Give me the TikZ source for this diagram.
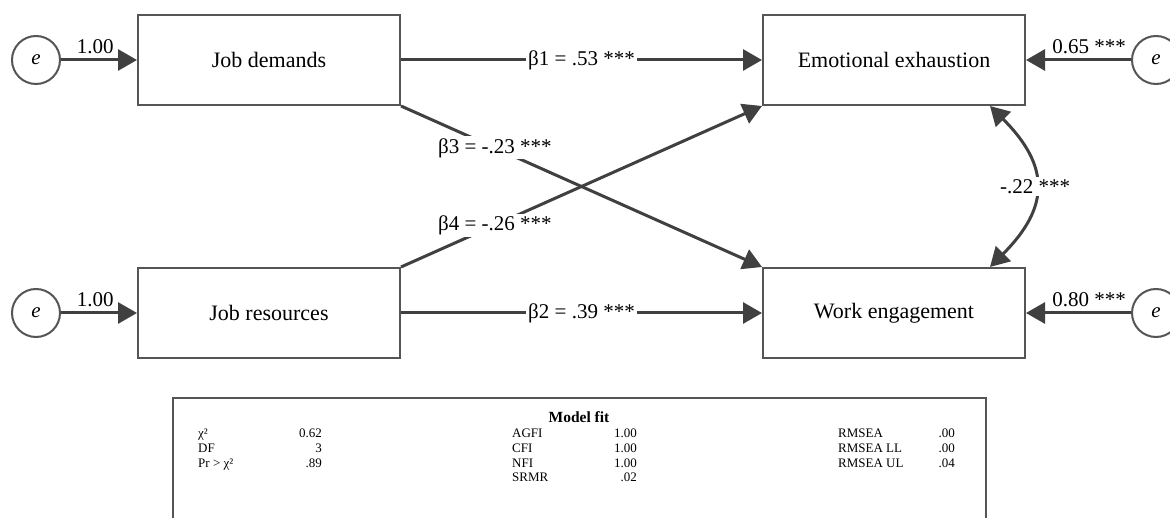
\documentclass[tikz,border=0pt]{standalone}
\usepackage{fontspec}
\setmainfont{Liberation Serif}
\usetikzlibrary{arrows.meta}
\definecolor{linea}{HTML}{404040}
\definecolor{bordo}{HTML}{555555}
\tikzset{
    scatola/.style={draw=bordo, line width=2pt, minimum width=262pt, minimum height=90pt, font=\fontsize{22}{26}\selectfont},
    errore/.style={draw=bordo, line width=2pt, circle, minimum size=48pt, inner sep=0pt, font=\fontsize{21}{24}\selectfont\itshape},
    freccia/.style={draw=linea, line width=3pt, -{Triangle[length=19pt,width=21pt]}},
    peso/.style={above=5pt, inner sep=0pt, font=\fontsize{21}{24}\selectfont},
    coeff/.style={font=\fontsize{21}{24}\selectfont, fill=white, inner sep=2pt},
    tab/.style={font=\fontsize{13}{15}\selectfont, inner sep=0pt}
}
\begin{document}
\begin{tikzpicture}[x=1pt, y=-1pt]
        \useasboundingbox (0,0) rectangle (1170,518);

        % Variabili osservate
        \node[scatola] (jd) at (269,60) {Job demands};
        \node[scatola] (jr) at (269,313) {Job resources};
        \node[scatola] (ee) at (894,60) {Emotional exhaustion};
        \node[scatola] (we) at (894,313) {Work engagement};

        % Errori
        \node[errore] (e1) at (36,60) {e};
        \node[errore] (e2) at (36,313) {e};
        \node[errore] (e3) at (1156,60) {e};
        \node[errore] (e4) at (1156,313) {e};

        % Frecce degli errori
        \draw[freccia] (e1) -- (jd) node[pos=0.45, peso] {1.00};
        \draw[freccia] (e2) -- (jr) node[pos=0.45, peso] {1.00};
        \draw[freccia] (e3) -- (ee) node[pos=0.4, peso] {0.65 ***};
        \draw[freccia] (e4) -- (we) node[pos=0.4, peso] {0.80 ***};

        % Percorsi
        \draw[freccia] (jd) -- (ee) node[coeff, midway] {β1 = .53 ***};
        \draw[freccia] (jr) -- (we) node[coeff, midway] {β2 = .39 ***};
        \draw[freccia] (jd.south east) -- (we.north west) node[coeff, pos=0.26] {β3 = -.23 ***};
        \draw[freccia] (jr.north east) -- (ee.south west) node[coeff, pos=0.26] {β4 = -.26 ***};

        % Covarianza
        \draw[draw=linea, line width=3pt, {Triangle[length=19pt,width=21pt]}-{Triangle[length=19pt,width=21pt]}]
        ([xshift=96pt]ee.south) .. controls +(60,60) and +(60,-60) .. ([xshift=96pt]we.north)
        node[coeff, midway] {-.22 ***};

        % Riquadro Model fit
        \draw[draw=bordo, line width=2pt] (173,398) rectangle (986,540);
        \node[anchor=base, inner sep=0pt, font=\fontsize{15.5}{18}\selectfont\bfseries] (fit) at (579,422) {Model fit};

        \node[tab, anchor=base west] (c1a) at (198,438) {χ²};
        \node[tab, anchor=base west] (c1b) at (198,452.5) {DF};
        \node[tab, anchor=base west] (c1c) at (198,467) {Pr > χ²};
        \node[tab, anchor=base east] (v1a) at (322,438) {0.62};
        \node[tab, anchor=base east] (v1b) at (322,452.5) {3};
        \node[tab, anchor=base east] (v1c) at (322,467) {.89};

        \node[tab, anchor=base west] (c2a) at (512,438) {AGFI};
        \node[tab, anchor=base west] (c2b) at (512,452.5) {CFI};
        \node[tab, anchor=base west] (c2c) at (512,467) {NFI};
        \node[tab, anchor=base west] (c2d) at (512,481.5) {SRMR};
        \node[tab, anchor=base east] (v2a) at (637,438) {1.00};
        \node[tab, anchor=base east] (v2b) at (637,452.5) {1.00};
        \node[tab, anchor=base east] (v2c) at (637,467) {1.00};
        \node[tab, anchor=base east] (v2d) at (637,481.5) {.02};

        \node[tab, anchor=base west] (c3a) at (838,438) {RMSEA};
        \node[tab, anchor=base west] (c3b) at (838,452.5) {RMSEA LL};
        \node[tab, anchor=base west] (c3c) at (838,467) {RMSEA UL};
        \node[tab, anchor=base east] (v3a) at (955,438) {.00};
        \node[tab, anchor=base east] (v3b) at (955,452.5) {.00};
        \node[tab, anchor=base east] (v3c) at (955,467) {.04};
    \end{tikzpicture}
\end{document}
